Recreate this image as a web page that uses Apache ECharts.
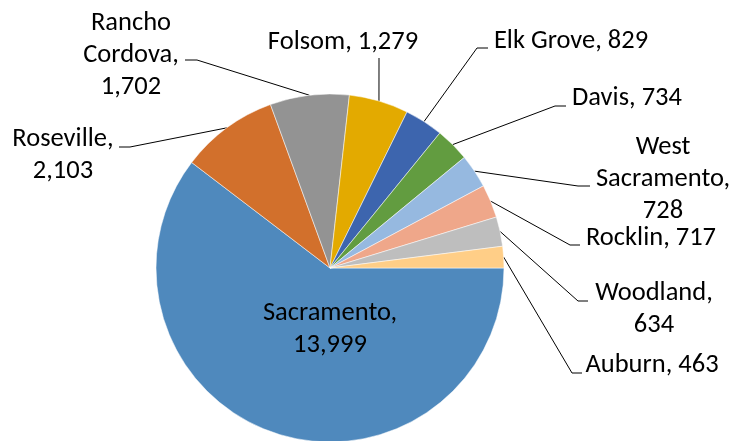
<!DOCTYPE html>
<html>
<head>
<meta charset="utf-8">
<script src="https://cdn.jsdelivr.net/npm/echarts@6/dist/echarts.min.js"></script>
<style>
  html, body { margin: 0; padding: 0; background: #fff; }
  #chart { width: 732px; height: 441px; }
</style>
</head>
<body>
<div id="chart"></div>
<script>
  // data
  const cities = ['Sacramento', 'Roseville', 'Rancho Cordova', 'Folsom', 'Elk Grove',
    'Davis', 'West Sacramento', 'Rocklin', 'Woodland', 'Auburn']
  const counts = [13999, 2103, 1702, 1279, 829, 734, 728, 717, 634, 463]
  const colors = ['#4F89BD', '#D2702C', '#939393', '#E3AA00', '#3D65AE',
    '#629C40', '#96B9E0', '#EFA78A', '#BEBEBE', '#FFCE87']

  // labels that Excel wrapped on several lines
  const wrapName = ['Rancho Cordova', 'West Sacramento']
  const wrapValue = ['Sacramento', 'Roseville', 'Rancho Cordova', 'West Sacramento', 'Woodland']

  // where Excel put each label (text centre) and the elbow / end of its leader line
  const labelAt = {
    'Sacramento': { pos: [330, 329] },
    'Roseville': { pos: [63, 155], bend: [130, 147], end: [119, 147] },
    'Rancho Cordova': { pos: [131, 55], bend: [197, 60], end: [185, 60] },
    'Folsom': { pos: [343, 42], bend: [379, 58], end: [379, 58] },
    'Elk Grove': { pos: [571, 41], bend: [477, 48], end: [488, 48] },
    'Davis': { pos: [627, 98], bend: [555, 106], end: [566, 106] },
    'West Sacramento': { pos: [663, 179], bend: [578, 186], end: [590, 186] },
    'Rocklin': { pos: [651, 238], bend: [570, 245], end: [580, 245] },
    'Woodland': { pos: [654, 309], bend: [578, 301], end: [588, 301] },
    'Auburn': { pos: [652, 365], bend: [572, 373], end: [582, 373] }
  }

  const chart = echarts.init(document.getElementById('chart'))

  const seriesData = cities.map((name, i) => {
    const item = { name: name, value: counts[i], itemStyle: { color: colors[i] } }
    if (name === 'Sacramento') item.labelLine = { show: false }
    return item
  })

  chart.setOption({
    animation: false,
    series: [{
      type: 'pie',
      center: [330, 268],
      radius: 174,
      startAngle: 0,
      clockwise: true,
      avoidLabelOverlap: false,
      itemStyle: { borderColor: '#fff', borderWidth: 0.5 },
      emphasis: { disabled: true },
      label: {
        show: true,
        position: 'outside',
        color: '#000',
        fontFamily: 'Carlito, Calibri, Lato, sans-serif',
        fontSize: 26.5,
        lineHeight: 32,
        align: 'center',
        formatter: (p) => {
          let n = p.name
          if (wrapName.indexOf(n) > -1) n = n.replace(' ', '\n')
          const sep = wrapValue.indexOf(p.name) > -1 ? ',\n' : ', '
          return n + sep + p.value.toLocaleString('en-US')
        }
      },
      labelLine: {
        show: true,
        length: 20,
        length2: 10,
        lineStyle: { color: '#000', width: 1 }
      },
      labelLayout: (params) => {
        const name = cities[params.dataIndex]
        const spot = labelAt[name]
        const out = {
          x: spot.pos[0],
          y: spot.pos[1],
          align: 'center',
          verticalAlign: 'middle',
          hideOverlap: false
        }
        if (spot.bend && params.labelLinePoints) {
          const start = params.labelLinePoints[0]
          out.labelLinePoints = [start, spot.bend, spot.end]
        }
        return out
      },
      data: seriesData
    }]
  })
</script>
</body>
</html>
